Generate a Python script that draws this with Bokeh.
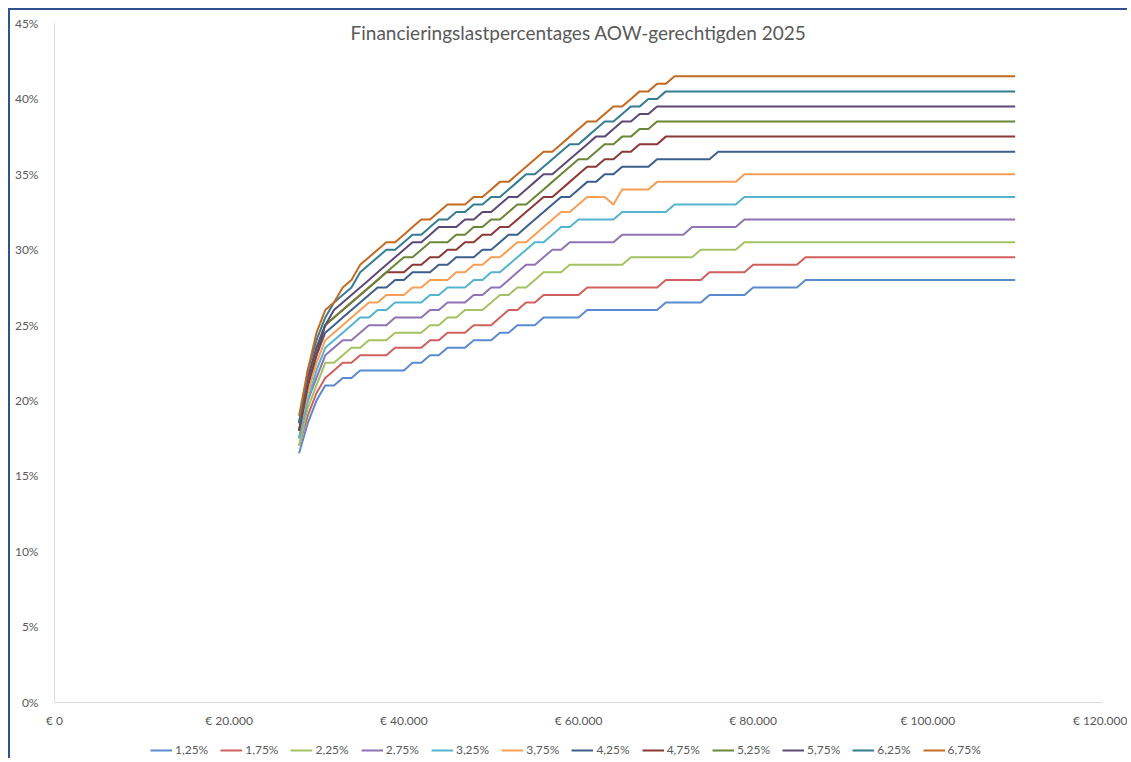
from bokeh.plotting import figure
from bokeh.models import Legend, LegendItem, FixedTicker, Label, Range1d, LinearAxis
from bokeh.embed import file_html
from bokeh.resources import INLINE

# Toetsinkomen (euro), steps of 1000 from 28.000 to 110.000
incomes = list(range(28000, 111000, 1000))

series_names = ["1,25%", "1,75%", "2,25%", "2,75%", "3,25%", "3,75%",
                "4,25%", "4,75%", "5,25%", "5,75%", "6,25%", "6,75%"]

r125 = [16.5, 18.5, 20, 21, 21, 21.5, 21.5, 22, 22, 22, 22, 22, 22, 22.5, 22.5, 23, 23, 23.5, 23.5, 23.5,
        24, 24, 24, 24.5, 24.5, 25, 25, 25,
        25.5, 25.5, 25.5, 25.5, 25.5,
        26, 26, 26, 26, 26, 26, 26, 26, 26,
        26.5, 26.5, 26.5, 26.5, 26.5,
        27, 27, 27, 27, 27,
        27.5, 27.5, 27.5, 27.5, 27.5, 27.5] + [28] * 25
r175 = [17, 19, 20.5, 21.5, 22, 22.5, 22.5, 23, 23, 23, 23, 23.5, 23.5, 23.5, 23.5, 24, 24, 24.5, 24.5, 24.5,
        25, 25, 25, 25.5, 26, 26, 26.5, 26.5,
        27, 27, 27, 27, 27,
        27.5, 27.5, 27.5, 27.5, 27.5, 27.5, 27.5, 27.5, 27.5,
        28, 28, 28, 28, 28,
        28.5, 28.5, 28.5, 28.5, 28.5,
        29, 29, 29, 29, 29, 29] + [29.5] * 25
r225 = [17, 19.5, 21, 22.5, 22.5, 23, 23.5, 23.5, 24, 24, 24, 24.5, 24.5, 24.5, 24.5, 25, 25, 25.5, 25.5, 26,
        26, 26, 26.5, 27, 27, 27.5, 27.5, 28, 28.5, 28.5, 28.5,
        29, 29, 29, 29, 29, 29, 29,
        29.5, 29.5, 29.5, 29.5, 29.5, 29.5, 29.5, 29.5,
        30, 30, 30, 30, 30] + [30.5] * 32
r275 = [17.5, 20, 21.5, 23, 23.5, 24, 24, 24.5, 25, 25, 25, 25.5, 25.5, 25.5, 25.5, 26, 26, 26.5, 26.5, 26.5,
        27, 27, 27.5, 27.5, 28, 28.5, 29, 29, 29.5, 30, 30,
        30.5, 30.5, 30.5, 30.5, 30.5, 30.5,
        31, 31, 31, 31, 31, 31, 31, 31,
        31.5, 31.5, 31.5, 31.5, 31.5, 31.5] + [32] * 32
r325 = [17.5, 20, 22, 23.5, 24, 24.5, 25, 25.5, 25.5, 26, 26, 26.5, 26.5, 26.5, 26.5, 27, 27, 27.5, 27.5, 27.5,
        28, 28, 28.5, 28.5, 29, 29.5, 30, 30.5, 30.5, 31, 31.5, 31.5,
        32, 32, 32, 32, 32,
        32.5, 32.5, 32.5, 32.5, 32.5, 32.5,
        33, 33, 33, 33, 33, 33, 33, 33] + [33.5] * 32
r375 = [18, 20.5, 22.5, 24, 24.5, 25, 25.5, 26, 26.5, 26.5, 27, 27, 27, 27.5, 27.5, 28, 28, 28, 28.5, 28.5,
        29, 29, 29.5, 29.5, 30, 30.5, 30.5, 31, 31.5, 32, 32.5, 32.5, 33, 33.5, 33.5, 33.5, 33,
        34, 34, 34, 34,
        34.5, 34.5, 34.5, 34.5, 34.5, 34.5, 34.5, 34.5, 34.5, 34.5] + [35] * 32
r425 = [18, 21, 23, 24.5, 25, 25.5, 26, 26.5, 27, 27.5, 27.5, 28, 28, 28.5, 28.5, 28.5, 29, 29, 29.5, 29.5,
        29.5, 30, 30, 30.5, 31, 31, 31.5, 32, 32.5, 33, 33.5, 33.5, 34, 34.5, 34.5, 35, 35,
        35.5, 35.5, 35.5, 35.5,
        36, 36, 36, 36, 36, 36, 36] + [36.5] * 35
r475 = [18, 21, 23, 25, 25.5, 26, 26.5, 27, 27.5, 28, 28.5, 28.5, 28.5, 29, 29, 29.5, 29.5, 30, 30, 30.5,
        30.5, 31, 31, 31.5, 31.5, 32, 32.5, 33, 33.5, 33.5, 34, 34.5, 35, 35.5, 35.5, 36, 36,
        36.5, 36.5, 37, 37, 37] + [37.5] * 41
r525 = [18.5, 21.5, 23.5, 25, 25.5, 26, 26.5, 27, 27.5, 28, 28.5, 29, 29.5, 29.5, 30, 30.5, 30.5, 30.5, 31, 31,
        31.5, 31.5, 32, 32, 32.5, 33, 33, 33.5, 34, 34.5, 35, 35.5, 36, 36, 36.5, 37, 37,
        37.5, 37.5, 38, 38] + [38.5] * 42
r575 = [18.5, 21.5, 23.5, 25, 26, 26.5, 27, 27.5, 28, 28.5, 29, 29.5, 30, 30.5, 30.5, 31, 31.5, 31.5, 31.5, 32,
        32, 32.5, 32.5, 33, 33.5, 33.5, 34, 34.5, 35, 35, 35.5, 36, 36.5, 37, 37.5, 37.5, 38,
        38.5, 38.5, 39, 39] + [39.5] * 42
r625 = [18.5, 22, 24, 25.5, 26.5, 27, 27.5, 28.5, 29, 29.5, 30, 30, 30.5, 31, 31, 31.5, 32, 32, 32.5, 32.5,
        33, 33, 33.5, 33.5, 34, 34.5, 35, 35, 35.5, 36, 36.5, 37, 37, 37.5, 38, 38.5, 38.5,
        39, 39.5, 39.5, 40, 40] + [40.5] * 41
r675 = [19, 22, 24.5, 26, 26.5, 27.5, 28, 29, 29.5, 30, 30.5, 30.5, 31, 31.5, 32, 32, 32.5, 33, 33, 33,
        33.5, 33.5, 34, 34.5, 34.5, 35, 35.5, 36, 36.5, 36.5, 37, 37.5, 38, 38.5, 38.5, 39, 39.5,
        39.5, 40, 40.5, 40.5, 41, 41] + [41.5] * 40

series_values = [r125, r175, r225, r275, r325, r375, r425, r475, r525, r575, r625, r675]

colors = ["#5A8AD0", "#D0605C", "#A4C263", "#8F73B3", "#55B4CF", "#F99E55",
          "#3C5F8C", "#8B3936", "#6B8639", "#5C4975", "#347D90", "#C36A22"]

x_ticks = [0, 20000, 40000, 60000, 80000, 100000, 120000]
x_tick_labels = ["€ 0", "€ 20.000", "€ 40.000", "€ 60.000", "€ 80.000", "€ 100.000", "€ 120.000"]
y_ticks = [0, 5, 10, 15, 20, 25, 30, 35, 40, 45]
y_tick_labels = ["0%", "5%", "10%", "15%", "20%", "25%", "30%", "35%", "40%", "45%"]

title_text = "Financieringslastpercentages AOW-gerechtigden 2025"

FONT = "Lato"
GREY = "#595959"

# frame widened a little beyond the 0..120.000 / 0..45% axes so the edge tick labels are not clipped
p = figure(width=1119, height=750, output_backend="svg", toolbar_location=None,
           x_range=Range1d(-4580, 123090), y_range=Range1d(-3.8, 45.73),
           x_axis_location=None, y_axis_location=None,
           min_border_left=4, min_border_right=0, min_border_top=2, min_border_bottom=1)
p.styles = {"margin-left": "8px", "margin-top": "8px",
            "border-left": "2px solid #2F528F", "border-top": "2px solid #2F528F"}

p.xgrid.visible = False
p.ygrid.visible = False
p.outline_line_color = None
p.background_fill_color = "white"
p.border_fill_color = "white"

xaxis = LinearAxis(fixed_location=0, bounds=(0, 120000))
yaxis = LinearAxis(fixed_location=0, bounds=(0, 45))
p.add_layout(xaxis, "below")
p.add_layout(yaxis, "left")

for ax in (xaxis, yaxis):
    ax.axis_line_color = "#D9D9D9"
    ax.axis_line_width = 1
    ax.major_tick_line_color = None
    ax.minor_tick_line_color = None
    ax.major_label_text_color = GREY
    ax.major_label_text_font = FONT
    ax.major_label_text_font_size = "12px"

xaxis.ticker = FixedTicker(ticks=x_ticks)
xaxis.major_label_overrides = {t: l for t, l in zip(x_ticks, x_tick_labels)}
xaxis.major_label_standoff = 5
yaxis.ticker = FixedTicker(ticks=y_ticks)
yaxis.major_label_overrides = {t: l for t, l in zip(y_ticks, y_tick_labels)}
yaxis.major_label_standoff = 10

items = []
for name, vals, col in zip(series_names, series_values, colors):
    r = p.line(incomes, vals, line_color=col, line_width=2, line_join="round")
    items.append(LegendItem(label=name, renderers=[r]))

legend = Legend(items=items, orientation="horizontal", location=(136, 2),
                border_line_color=None, background_fill_alpha=0,
                label_text_font=FONT, label_text_font_size="12px", label_text_color=GREY,
                glyph_width=22, glyph_height=12, label_standoff=3, spacing=12,
                padding=2, margin=0, label_height=14)
p.add_layout(legend)

p.add_layout(Label(x=60000, y=44.4, text=title_text, text_align="center", text_baseline="middle",
                   text_font=FONT, text_font_size="19px", text_color=GREY))

open("out.html", "w").write(file_html(p, INLINE))
